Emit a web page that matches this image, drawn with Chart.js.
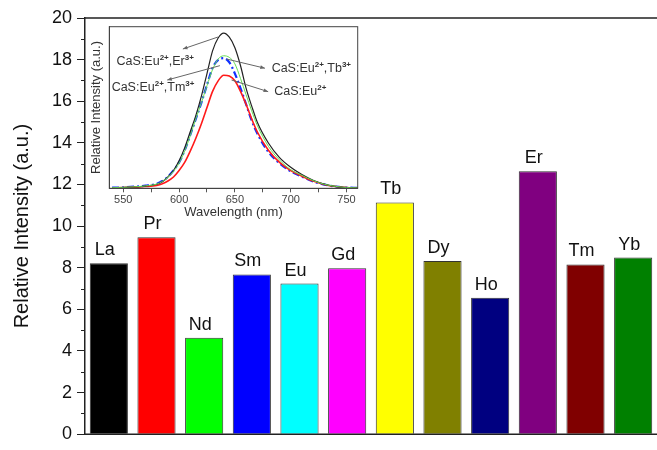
<!DOCTYPE html>
<html>
<head>
<meta charset="utf-8">
<script src="https://cdn.jsdelivr.net/npm/chart.js@4.4.1/dist/chart.umd.min.js"></script>
<style>
  html, body { margin: 0; padding: 0; background: #fff; overflow: hidden; }
  #wrap { position: relative; width: 657px; height: 450px; }
  #main { position: absolute; left: 0; top: 0; }
  #inset { position: absolute; left: 86px; top: 20px; }
</style>
</head>
<body>
<div id="wrap">
  <canvas id="main" width="657" height="450"></canvas>
  <canvas id="inset" width="280" height="210"></canvas>
</div>
<script>
/* bar data */
const elements = ['La', 'Pr', 'Nd', 'Sm', 'Eu', 'Gd', 'Tb', 'Dy', 'Ho', 'Er', 'Tm', 'Yb'];
const intensity = [8.22, 9.47, 4.64, 7.68, 7.24, 7.98, 11.14, 8.32, 6.56, 12.64, 8.16, 8.49];
const barColors = ['#000000', '#ff0000', '#00ff00', '#0000ff', '#00ffff', '#ff00ff',
                   '#ffff00', '#808000', '#000080', '#800080', '#800000', '#008000'];

/* inset spectra */
const wavelength = [540, 550, 560, 570, 580, 585, 590, 595, 600, 605, 610, 615, 620, 625, 630, 635, 640,
                    645, 650, 655, 660, 665, 670, 680, 690, 700, 710, 720, 730, 740, 750, 760];
const spectrumEr = [0.003, 0.005, 0.008, 0.014, 0.025, 0.04, 0.07, 0.11, 0.17, 0.25, 0.35, 0.45, 0.57, 0.71, 0.85, 0.93, 0.96,
                    0.935, 0.87, 0.76, 0.62, 0.51, 0.41, 0.28, 0.19, 0.13, 0.085, 0.05, 0.026, 0.012, 0.005, 0.003];
const spectrumTb = [0.004, 0.006, 0.009, 0.015, 0.026, 0.042, 0.068, 0.105, 0.155, 0.23, 0.325, 0.43, 0.53, 0.635, 0.735, 0.80, 0.82,
                    0.81, 0.77, 0.68, 0.58, 0.48, 0.39, 0.26, 0.175, 0.115, 0.08, 0.048, 0.025, 0.012, 0.005, 0.003];
const spectrumTm = [0.004, 0.006, 0.01, 0.016, 0.028, 0.045, 0.072, 0.11, 0.16, 0.235, 0.33, 0.43, 0.53, 0.64, 0.745, 0.795, 0.805,
                    0.78, 0.71, 0.62, 0.52, 0.42, 0.34, 0.225, 0.155, 0.105, 0.072, 0.043, 0.023, 0.011, 0.005, 0.003];
const spectrumEu = [0.002, 0.004, 0.007, 0.011, 0.018, 0.028, 0.045, 0.07, 0.11, 0.16, 0.23, 0.31, 0.40, 0.50, 0.60, 0.665, 0.70,
                    0.695, 0.665, 0.60, 0.52, 0.43, 0.35, 0.235, 0.16, 0.11, 0.075, 0.045, 0.024, 0.011, 0.005, 0.003];
const wavelengthTicks = [550, 575, 600, 625, 650, 675, 700, 725, 750];

const FONT = "'Liberation Sans', Arial, sans-serif";

/* main bar chart */
const barLabels = {
  id: 'barLabels',
  afterDatasetsDraw(chart) {
    const ctx = chart.ctx;
    const meta = chart.getDatasetMeta(0);
    ctx.save();
    ctx.font = '18px ' + FONT;
    ctx.fillStyle = '#111';
    ctx.textAlign = 'center';
    ctx.textBaseline = 'alphabetic';
    meta.data.forEach((bar, i) => {
      ctx.fillText(elements[i], bar.x - 4, bar.y - 8);
    });
    ctx.restore();
  }
};

const mainFrame = {
  id: 'mainFrame',
  afterDraw(chart) {
    const { ctx, chartArea: a } = chart;
    const y = chart.scales.y;
    ctx.save();
    ctx.strokeStyle = '#222';
    ctx.lineWidth = 1.5;
    ctx.beginPath();
    ctx.moveTo(a.left, a.top); ctx.lineTo(a.right, a.top);
    ctx.moveTo(a.left, a.bottom); ctx.lineTo(a.right, a.bottom);
    ctx.stroke();
    // minor ticks
    ctx.lineWidth = 1;
    ctx.beginPath();
    for (let v = 1; v < 20; v += 2) {
      const py = Math.round(y.getPixelForValue(v)) + 0.5;
      ctx.moveTo(a.left - 4, py); ctx.lineTo(a.left, py);
    }
    ctx.stroke();
    ctx.restore();
  }
};

new Chart(document.getElementById('main'), {
  type: 'bar',
  data: {
    labels: elements,
    datasets: [{
      data: intensity,
      backgroundColor: barColors,
      borderColor: '#333',
      borderWidth: 1,
      categoryPercentage: 1,
      barPercentage: 0.8
    }]
  },
  options: {
    responsive: false,
    animation: false,
    layout: { autoPadding: false, padding: { top: 18, bottom: 4, left: 0, right: 0 } },
    plugins: { legend: { display: false }, tooltip: { enabled: false } },
    scales: {
      x: { display: false },
      y: {
        min: 0, max: 20,
        ticks: {
          stepSize: 1,
          callback: v => (v % 2 === 0 ? v : ''),
          font: { size: 18, family: FONT },
          color: '#111',
          padding: 5
        },
        grid: {
          drawOnChartArea: false,
          tickLength: 8,
          tickColor: c => (c.tick && c.tick.value % 2 ? 'rgba(0,0,0,0)' : '#222')
        },
        border: { color: '#222', width: 1.5 },
        title: {
          display: true,
          text: 'Relative Intensity (a.u.)',
          font: { size: 20, family: FONT },
          color: '#111',
          padding: { top: 10, bottom: 0 }
        },
        afterFit: s => { s.width = 85; }
      }
    }
  },
  plugins: [barLabels, mainFrame]
});

/* inset spectra chart */
const notes = [
  { parts: [['CaS:Eu', 0], ['2+', 1], [',Er', 0], ['3+', 1]], tx: 544, ty: 0.762, from: [634.8, 0.936], to: [603.4, 0.862] },
  { parts: [['CaS:Eu', 0], ['2+', 1], [',Tm', 0], ['3+', 1]], tx: 539.6, ty: 0.604, from: [636.6, 0.759], to: [589.4, 0.67] },
  { parts: [['CaS:Eu', 0], ['2+', 1], [',Tb', 0], ['3+', 1]], tx: 682.9, ty: 0.722, from: [642.6, 0.80], to: [676.9, 0.743] },
  { parts: [['CaS:Eu', 0], ['2+', 1]], tx: 685.2, ty: 0.579, from: [647, 0.67], to: [679.8, 0.598] }
];

const insetDecor = {
  id: 'insetDecor',
  afterDraw(chart) {
    const { ctx, chartArea: a } = chart;
    const sx = chart.scales.x, sy = chart.scales.y;
    ctx.save();
    ctx.strokeStyle = '#444';
    ctx.lineWidth = 1;
    ctx.strokeRect(a.left, a.top, a.right - a.left, a.bottom - a.top);

    notes.forEach(n => {
      const x1 = sx.getPixelForValue(n.from[0]), y1 = sy.getPixelForValue(n.from[1]);
      const x2 = sx.getPixelForValue(n.to[0]), y2 = sy.getPixelForValue(n.to[1]);
      ctx.strokeStyle = '#666';
      ctx.fillStyle = '#666';
      ctx.lineWidth = 1;
      ctx.beginPath(); ctx.moveTo(x1, y1); ctx.lineTo(x2, y2); ctx.stroke();
      const ang = Math.atan2(y2 - y1, x2 - x1);
      ctx.beginPath();
      ctx.moveTo(x2, y2);
      ctx.lineTo(x2 - 5 * Math.cos(ang - 0.4), y2 - 5 * Math.sin(ang - 0.4));
      ctx.lineTo(x2 - 5 * Math.cos(ang + 0.4), y2 - 5 * Math.sin(ang + 0.4));
      ctx.closePath(); ctx.fill();

      let x = sx.getPixelForValue(n.tx);
      const y = sy.getPixelForValue(n.ty);
      ctx.fillStyle = '#333';
      ctx.textBaseline = 'alphabetic';
      n.parts.forEach(([t, sup]) => {
        ctx.font = sup ? 'bold 8px ' + FONT : '12.5px ' + FONT;
        ctx.fillText(t, x, sup ? y - 5 : y);
        x += ctx.measureText(t).width;
      });
    });
    ctx.restore();
  }
};

const pts = arr => wavelength.map((w, i) => ({ x: w, y: arr[i] }));

new Chart(document.getElementById('inset'), {
  type: 'line',
  data: {
    datasets: [
      { data: pts(spectrumTb), borderColor: '#66dd55', borderWidth: 1 },
      { data: pts(spectrumEr), borderColor: '#222', borderWidth: 1.2 },
      { data: pts(spectrumEu), borderColor: '#ff1a1a', borderWidth: 1.6 },
      { data: pts(spectrumTm), borderColor: '#1030ff', borderWidth: 2.2, borderDash: [7, 3, 2, 3] }
    ]
  },
  options: {
    responsive: false,
    animation: false,
    layout: { autoPadding: false, padding: { top: 6.7, right: 8.3, left: 0, bottom: 0 } },
    elements: { point: { radius: 0 }, line: { tension: 0.4, cubicInterpolationMode: 'monotone' } },
    plugins: { legend: { display: false }, tooltip: { enabled: false } },
    scales: {
      x: {
        type: 'linear', min: 537.5, max: 760,
        afterBuildTicks: s => { s.ticks = wavelengthTicks.map(v => ({ value: v })); },
        ticks: {
          autoSkip: false,
          maxRotation: 0,
          callback: v => (v % 50 === 0 ? v : ''),
          font: { size: 11, family: FONT },
          color: '#444',
          padding: 1
        },
        grid: { drawOnChartArea: false, tickLength: 4, tickColor: '#555' },
        border: { color: '#444' },
        title: {
          display: true,
          text: 'Wavelength (nm)',
          font: { size: 13, family: FONT },
          color: '#333',
          padding: { top: 0, bottom: 10 }
        },
        afterFit: s => { s.height = 41.7; }
      },
      y: {
        min: 0, max: 1,
        ticks: { display: false },
        grid: { display: false },
        border: { color: '#444' },
        title: {
          display: true,
          text: 'Relative Intensity (a.u.)',
          font: { size: 13, family: FONT },
          color: '#333',
          padding: { top: 3, bottom: 0 }
        },
        afterFit: s => { s.width = 23.3; }
      }
    }
  },
  plugins: [insetDecor]
});
</script>
</body>
</html>
